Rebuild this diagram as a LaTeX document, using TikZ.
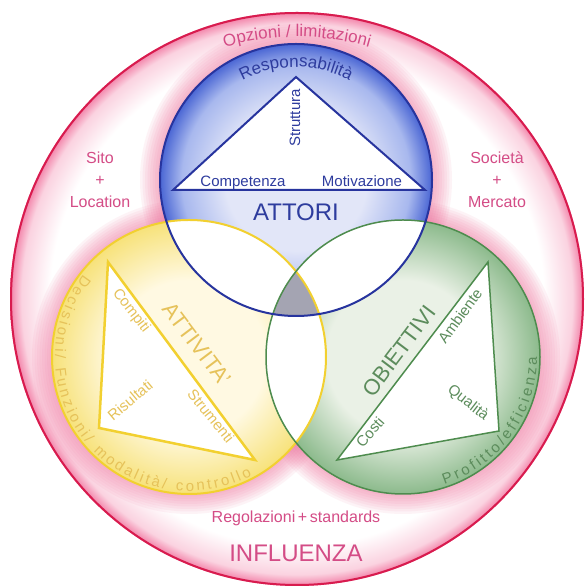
\documentclass[tikz,border=0pt]{standalone}
\usepackage{fontspec}
\setmainfont{Liberation Sans}
\usetikzlibrary{decorations.text}

\definecolor{ringline}{HTML}{D81B4E}
\definecolor{ringpink}{HTML}{F06A98}
\definecolor{ringtext}{HTML}{D44C86}
\definecolor{blueline}{HTML}{27349E}
\definecolor{bluein}{HTML}{E2E6F8}
\definecolor{bluemid}{HTML}{A8B8EE}
\definecolor{blueout}{HTML}{4A66D4}
\definecolor{bluetext}{HTML}{2E3C9E}
\definecolor{yellowline}{HTML}{F2D030}
\definecolor{yellowin}{HTML}{FFF9E2}
\definecolor{yellowout}{HTML}{F7E27A}
\definecolor{yellowtext}{HTML}{E6C25A}
\definecolor{greenline}{HTML}{4E8C4E}
\definecolor{greenin}{HTML}{EAF1E6}
\definecolor{greenout}{HTML}{8CBA8C}
\definecolor{greentext}{HTML}{5C8C5C}
\definecolor{midgray}{HTML}{A4A4B2}

\pgfdeclareradialshading{ringshade}{\pgfpoint{0bp}{0bp}}{color(0bp)=(white); color(21.5bp)=(white); color(24bp)=(ringpink!30); color(25bp)=(ringpink!85); color(50bp)=(ringpink!85)}
\pgfdeclareradialshading{blueshade}{\pgfpoint{0bp}{0bp}}{color(0bp)=(bluein); color(13bp)=(bluein); color(21bp)=(bluemid); color(25bp)=(blueout); color(50bp)=(blueout)}
\pgfdeclareradialshading{yellowshade}{\pgfpoint{0bp}{0bp}}{color(0bp)=(yellowin); color(14bp)=(yellowin); color(25bp)=(yellowout); color(50bp)=(yellowout)}
\pgfdeclareradialshading{greenshade}{\pgfpoint{0bp}{0bp}}{color(0bp)=(greenin); color(14bp)=(greenin); color(25bp)=(greenout); color(50bp)=(greenout)}

\begin{document}
\begin{tikzpicture}[x=1pt,y=1pt,
  bigtext/.style={font=\fontsize{24}{24}\selectfont},
  midtext/.style={font=\fontsize{22}{22}\selectfont},
  smalltext/.style={font=\fontsize{15}{15}\selectfont},
  pinktext/.style={font=\fontsize{16}{22}\selectfont, text=ringtext, align=center},
  halo/.style={fill=ringpink, opacity=0.08}]
  \useasboundingbox (0,0) rectangle (587,586);
  \coordinate (co) at (297,287);
  \coordinate (cb) at (296,406);
  \coordinate (cy) at (189,229);
  \coordinate (cg) at (403,229);

  \shade[shading=ringshade] (co) circle[radius=287pt];
  \foreach \k in {1,...,8} {
    \fill[halo] (cb) circle[radius={136pt+2.5pt*\k}];
    \fill[halo] (cy) circle[radius={137pt+2.5pt*\k}];
    \fill[halo] (cg) circle[radius={137pt+2.5pt*\k}];
  }
  \draw[ringline, line width=2pt] (co) circle[radius=286pt];

  \shade[shading=yellowshade] (cy) circle[radius=137pt];
  \shade[shading=greenshade] (cg) circle[radius=137pt];
  \shade[shading=blueshade] (cb) circle[radius=136pt];
  \begin{scope}
    \clip (cb) circle[radius=136pt];
    \fill[white] (cy) circle[radius=137pt];
    \fill[white] (cg) circle[radius=137pt];
  \end{scope}
  \begin{scope}
    \clip (cy) circle[radius=137pt];
    \fill[white] (cg) circle[radius=137pt];
    \clip (cb) circle[radius=136pt];
    \fill[midgray] (cg) circle[radius=137pt];
  \end{scope}
  \draw[yellowline, line width=2pt] (cy) circle[radius=137pt];
  \draw[greenline, line width=1.5pt] (cg) circle[radius=137pt];
  \draw[blueline, line width=2pt] (cb) circle[radius=136pt];

  \coordinate (b1) at (296,509);
  \coordinate (b2) at (173,396);
  \coordinate (b3) at (425,396);
  \coordinate (y1) at (108,324);
  \coordinate (y2) at (99,158);
  \coordinate (y3) at (255,126);
  \coordinate (g1) at (488,324);
  \coordinate (g2) at (499,155);
  \coordinate (g3) at (337,126);
  \filldraw[fill=white, draw=blueline, line width=2pt] (b1) -- (b2) -- (b3) -- cycle;
  \filldraw[fill=white, draw=yellowline, line width=2.5pt] (y1) -- (y2) -- (y3) -- cycle;
  \filldraw[fill=white, draw=greenline, line width=1.5pt] (g1) -- (g2) -- (g3) -- cycle;

  \node[bigtext, text=bluetext] (attori) at (296,374) {ATTORI};
  \node[smalltext, text=bluetext, anchor=base] (competenza) at (243,399) {Competenza};
  \node[smalltext, text=bluetext, anchor=base] (motivazione) at (362,399) {Motivazione};
  \node[smalltext, text=bluetext, rotate=90] (struttura) at (295,468) {Struttura};

  \node[midtext, text=yellowtext, rotate=-53] (attivita) at (197,242) {ATTIVITA'};
  \node[smalltext, text=yellowtext, rotate=-52] (compiti) at (131,275) {Compiti};
  \node[smalltext, text=yellowtext, rotate=40] (risultati) at (130,186) {Risultati};
  \node[smalltext, text=yellowtext, rotate=-51] (strumenti) at (211,170) {Strumenti};

  \node[midtext, text=greentext, rotate=53] (obiettivi) at (399,235) {OBIETTIVI};
  \node[smalltext, text=greentext, rotate=54] (ambiente) at (460,270) {Ambiente};
  \node[smalltext, text=greentext, rotate=49] (costi) at (370,154) {Costi};
  \node[smalltext, text=greentext, rotate=-38] (qualita) at (468,183) {Qualità};

  \node[pinktext] (sito) at (100,406) {Sito\\+\\Location};
  \node[pinktext] (societa) at (497,406) {Società\\+\\Mercato};
  \node[pinktext] (regolazioni) at (296,68) {Regolazioni\,+\,standards};
  \node[bigtext, text=ringtext] (influenza) at (296,33) {INFLUENZA};

  \path[decorate, decoration={text along path, text color=ringtext, text align=center,
    text={|\fontsize{17}{17}\selectfont|Opzioni / limitazioni}}]
    (co) ++(118:262pt) arc[start angle=118, end angle=62, radius=262pt];
  \path[decorate, decoration={text along path, text color=bluetext, text align=center,
    text={|\fontsize{17}{17}\selectfont|Responsabilità}}]
    (cb) ++(128:113pt) arc[start angle=128, end angle=52, radius=113pt];
  \path[decorate, decoration={text along path, text color=yellowtext, text align={fit to path},
    text={|\fontsize{15}{15}\selectfont|Decisioni/ Funzioni/ modalità/ controllo}}]
    (cy) ++(142:134pt) arc[start angle=142, end angle=298, radius=134pt];
  \path[decorate, decoration={text along path, text color=greentext, text align={fit to path},
    text={|\fontsize{15}{15}\selectfont|Profitto/efficienza}}]
    (cg) ++(-72:134pt) arc[start angle=-72, end angle=0, radius=134pt];
\end{tikzpicture}
\end{document}
